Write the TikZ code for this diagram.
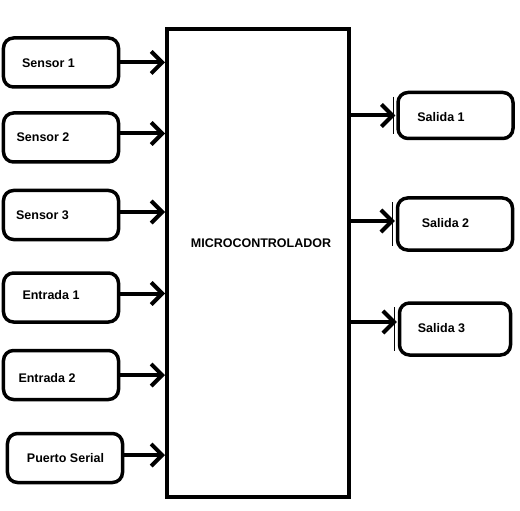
\documentclass[tikz,border=0pt]{standalone}
\usepackage{fontspec}
\setmainfont{Liberation Sans}
\usetikzlibrary{arrows.meta}
\begin{document}
\begin{tikzpicture}[x=1bp,y=-1bp,
  box/.style={draw, line width=3.5bp, rounded corners=10bp, minimum width=115bp, minimum height=49bp, inner sep=0pt},
  lbl/.style={font=\fontsize{12.5bp}{14bp}\selectfont\bfseries, inner sep=0pt},
  conn/.style={line width=4bp, -{Straight Barb[length=11bp,width=22bp,line width=4bp]}},
  mcbox/.style={draw, line width=4bp, minimum width=182bp, minimum height=468bp, inner sep=0pt}]
\useasboundingbox (0,0) rectangle (520,511);
\node[mcbox] (mc) at (258,263) {};
\node[lbl] (mct) at (261,243) {MICROCONTROLADOR};
% inputs
\node[box] (s1) at (61,62.5) {};
\node[box] (s2) at (61,137.5) {};
\node[box] (s3) at (61,215) {};
\node[box] (e1) at (61,297.5) {};
\node[box] (e2) at (61,375) {};
\node[box] (ps) at (65,458) {};
\node[lbl] (s1t) at (48.5,63) {Sensor 1};
\node[lbl] (s2t) at (43,137) {Sensor 2};
\node[lbl] (s3t) at (42.5,215) {Sensor 3};
\node[lbl] (e1t) at (51,295) {Entrada 1};
\node[lbl] (e2t) at (47,378) {Entrada 2};
\node[lbl] (pst) at (65.5,458) {Puerto Serial};
% outputs
\node[box, minimum height=46bp] (o1) at (455.5,115.5) {};
\node[box, minimum height=52bp] (o2) at (455,224) {};
\node[box, minimum width=111bp, minimum height=52bp] (o3) at (455,329) {};
\node[lbl] (o1t) at (441,117) {Salida 1};
\node[lbl] (o2t) at (445.5,223) {Salida 2};
\node[lbl] (o3t) at (441.5,328) {Salida 3};
\foreach \n in {o1,o2,o3}{
  \draw[line width=0.8bp] ([xshift=-3bp,yshift=-6bp]\n.north west) -- ([xshift=-3bp,yshift=6bp]\n.south west);
}
% connectors
\draw[conn] (s1.east) -- (s1.east -| mc.west);
\draw[conn] ([yshift=4bp]s2.east) -- ([yshift=4bp]s2.east -| mc.west);
\draw[conn] ([yshift=3bp]s3.east) -- ([yshift=3bp]s3.east -| mc.west);
\draw[conn] ([yshift=4bp]e1.east) -- ([yshift=4bp]e1.east -| mc.west);
\draw[conn] (e2.east) -- (e2.east -| mc.west);
\draw[conn] ([yshift=3bp]ps.east) -- ([yshift=3bp]ps.east -| mc.west);
\draw[conn] (mc.east |- o1.west) -- ([xshift=-1bp]o1.west);
\draw[conn] ([yshift=3bp]mc.east |- o2.west) -- ([xshift=-1bp,yshift=3bp]o2.west);
\draw[conn] ([yshift=7bp]mc.east |- o3.west) -- ([xshift=-1bp,yshift=7bp]o3.west);
\end{tikzpicture}
\end{document}
